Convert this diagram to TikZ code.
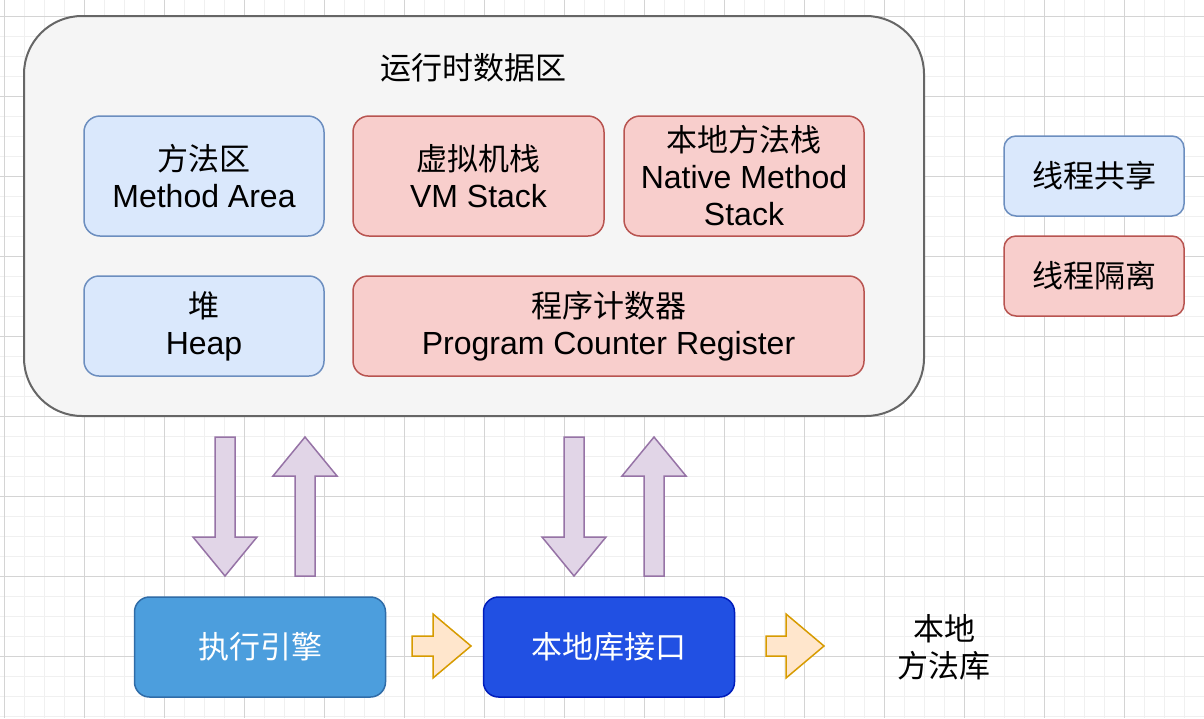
\documentclass[tikz,border=0pt]{standalone}
\usepackage{fontspec}
\setmainfont{Liberation Sans}
\newfontfamily\cjk{Noto Sans CJK SC}
\definecolor{gridminor}{HTML}{F0F0F0}
\definecolor{gridmajor}{HTML}{D4D4D4}
\definecolor{outerfill}{HTML}{F5F5F5}
\definecolor{outerdraw}{HTML}{666666}
\definecolor{bluefill}{HTML}{DAE8FC}
\definecolor{bluedraw}{HTML}{6C8EBF}
\definecolor{redfill}{HTML}{F8CECC}
\definecolor{reddraw}{HTML}{B85450}
\definecolor{purpfill}{HTML}{E1D5E7}
\definecolor{purpdraw}{HTML}{9673A6}
\definecolor{orfill}{HTML}{FFE6CC}
\definecolor{ordraw}{HTML}{D79B00}
\definecolor{exefill}{RGB}{76,158,221}
\definecolor{exedraw}{RGB}{47,108,168}
\definecolor{nlifill}{RGB}{33,80,227}
\definecolor{nlidraw}{HTML}{001DBC}
\newcommand{\zh}[1]{{\cjk\fontsize{31}{37}\selectfont #1}}
\tikzset{
  txt/.style={font=\fontsize{32}{37}\selectfont, align=center, inner sep=0pt},
  box/.style={txt, draw, line width=1.5pt, rounded corners=#1},
  box/.default=16pt,
  shared/.style={box, fill=bluefill, draw=bluedraw},
  isolated/.style={box, fill=redfill, draw=reddraw},
  purparrow/.style={fill=purpfill, draw=purpdraw, line width=1.5pt, line join=miter},
  orarrow/.style={fill=orfill, draw=ordraw, line width=1.5pt, line join=miter},
}
\begin{document}
\begin{tikzpicture}[x=1pt, y=-1pt]
\useasboundingbox (0,0) rectangle (1204,718);
\fill[white] (0,0) rectangle (1204,718);
% grid
\foreach \i in {0,...,60} {\draw[gridminor, line width=1pt] (4+20*\i,0) -- (4+20*\i,718);}
\foreach \j in {0,...,35} {\draw[gridminor, line width=1pt] (0,16+20*\j) -- (1204,16+20*\j);}
\foreach \i in {0,...,15} {\draw[gridmajor, line width=1pt] (4+80*\i,0) -- (4+80*\i,718);}
\foreach \j in {0,...,8} {\draw[gridmajor, line width=1pt] (0,16+80*\j) -- (1204,16+80*\j);}

% outer area
\node[draw=outerdraw, fill=outerfill, line width=2pt, rounded corners=58pt,
      minimum width=900pt, minimum height=400pt, inner sep=0pt] (rtda) at (474,216) {};
\node[txt] (title) at (473,68) {\zh{运行时数据区}};

\node[shared, minimum width=240pt, minimum height=120pt] (ma) at (204,176)
  {\zh{方法区}\\Method Area};
\node[isolated, minimum width=251pt, minimum height=120pt] (vm) at (478.5,176)
  {\zh{虚拟机栈}\\VM Stack};
\node[isolated, minimum width=240pt, minimum height=120pt] (nm) at (744,176)
  {\zh{本地方法栈}\\Native Method\\Stack};
\node[shared, box=15pt, minimum width=240pt, minimum height=100pt] (heap) at (204,326)
  {\zh{堆}\\Heap};
\node[isolated, box=15pt, minimum width=511pt, minimum height=100pt] (pc) at (608.5,326)
  {\zh{程序计数器}\\Program Counter Register};

% legend
\node[shared, box=12pt, minimum width=180pt, minimum height=80pt] (lg1) at (1094,176) {\zh{线程共享}};
\node[isolated, box=12pt, minimum width=180pt, minimum height=80pt] (lg2) at (1094,276) {\zh{线程隔离}};

% bottom boxes
\node[box=15pt, fill=exefill, draw=exedraw, text=white, minimum width=251pt, minimum height=100pt] (exe) at (260,647) {\zh{执行引擎}};
\node[box=15pt, fill=nlifill, draw=nlidraw, text=white, minimum width=251pt, minimum height=100pt] (nli) at (609,647) {\zh{本地库接口}};
\node[txt] (lib) at (944,647) {\zh{本地}\\\zh{方法库}};

% purple block arrows
\draw[purparrow] (215,437) -- (235,437) -- (235,537) -- (257,537) -- (225,576) -- (193,537) -- (215,537) -- cycle;
\draw[purparrow] (305,437) -- (337,476) -- (315,476) -- (315,576) -- (295,576) -- (295,476) -- (273,476) -- cycle;
\draw[purparrow] (564,437) -- (584,437) -- (584,537) -- (606,537) -- (574,576) -- (542,537) -- (564,537) -- cycle;
\draw[purparrow] (654,437) -- (686,476) -- (664,476) -- (664,576) -- (644,576) -- (644,476) -- (622,476) -- cycle;

% orange block arrows
\draw[orarrow] (412,636) -- (433,636) -- (433,614) -- (471,646) -- (433,678) -- (433,656) -- (412,656) -- cycle;
\draw[orarrow] (766,636) -- (786,636) -- (786,614) -- (824,646) -- (786,678) -- (786,656) -- (766,656) -- cycle;
\end{tikzpicture}
\end{document}
